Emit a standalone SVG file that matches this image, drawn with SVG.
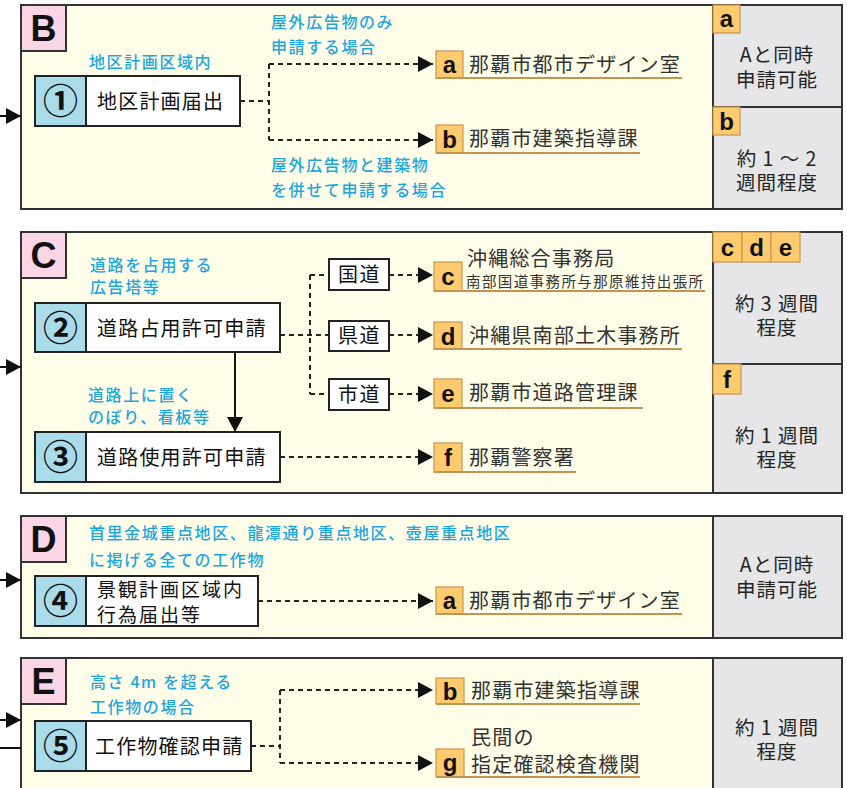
<svg xmlns="http://www.w3.org/2000/svg" width="847" height="788" viewBox="0 0 847 788">
<defs>
<style>
.sec{fill:#FFFCE8;stroke:#333;stroke-width:2}
.gray{fill:#E6E6E8;stroke:#333;stroke-width:2}
.pink{fill:#F9D5E5;stroke:#333;stroke-width:2}
.node{fill:#fff;stroke:#222;stroke-width:2}
.cell{fill:#A9DCE8;stroke:#222;stroke-width:2}
.road{fill:#fff;stroke:#222;stroke-width:2}
.org{fill:#FFCB6E;stroke:#C49650;stroke-width:1.2}
.ul{stroke:#BE9553;stroke-width:2.2;fill:none}
.dash{stroke:#222;stroke-width:2;stroke-dasharray:5 4;fill:none}
.solid{stroke:#111;stroke-width:2;fill:none}
.big{font-family:"Liberation Sans",Arial,sans-serif;font-weight:bold;font-size:36px;fill:#111;text-anchor:middle}
.let{font-family:"Liberation Sans",Arial,sans-serif;font-weight:bold;font-size:24px;fill:#111;text-anchor:middle}
.num{font-family:"Noto Sans CJK JP",sans-serif;font-weight:bold;font-size:35px;fill:#111;text-anchor:middle}
.nt{font-family:"Noto Sans CJK JP",sans-serif;font-size:20px;letter-spacing:1.2px;fill:#111}
.nt2{font-family:"Noto Sans CJK JP",sans-serif;font-size:19px;letter-spacing:2px;fill:#111}
.dt{font-family:"Noto Sans CJK JP",sans-serif;font-size:20px;letter-spacing:1.2px;fill:#333}
.sm{font-family:"Noto Sans CJK JP",sans-serif;font-size:14.5px;letter-spacing:1.4px;fill:#333}
.bl{font-family:"Noto Sans CJK JP",sans-serif;font-size:16px;font-weight:500;letter-spacing:1.6px;fill:#1EA6DF}
.rt{font-family:"Noto Sans CJK JP",sans-serif;font-size:19.5px;letter-spacing:1px;fill:#222;text-anchor:middle}
.ct{font-family:"Noto Sans CJK JP",sans-serif;font-size:20px;letter-spacing:1.5px;fill:#111;text-anchor:middle}
</style>
<marker id="ah" viewBox="0 0 15 16" refX="15" refY="8" markerWidth="15" markerHeight="16" markerUnits="userSpaceOnUse" orient="auto">
<path d="M0,0 L15,8 L0,16 z" fill="#111"/>
</marker>
</defs>

<!-- Sections -->
<g id="secB">
<rect class="sec" x="21" y="5" width="821" height="204"/>
<rect class="gray" x="713" y="5" width="129" height="204"/>
<line x1="713" y1="107" x2="842" y2="107" stroke="#333" stroke-width="2"/>
<rect class="pink" x="21" y="5" width="45" height="46"/>
<text class="big" x="43.5" y="41">B</text>
<text class="bl" x="89" y="68">地区計画区域内</text>
<text class="bl" x="271" y="28">屋外広告物のみ</text>
<text class="bl" x="271" y="53">申請する場合</text>
<text class="bl" x="271" y="171">屋外広告物と建築物</text>
<text class="bl" x="271" y="196">を併せて申請する場合</text>
</g>
<g id="panelB">
<rect class="org" x="713" y="5" width="27" height="28"/>
<text class="let" x="726.5" y="27">a</text>
<text class="rt" x="777" y="62">Aと同時</text>
<text class="rt" x="777" y="87">申請可能</text>
<rect class="org" x="713" y="107" width="27" height="28"/>
<text class="let" x="726.5" y="130">b</text>
<text class="rt" x="777" y="166">約 1 ～ 2</text>
<text class="rt" x="777" y="190">週間程度</text>
</g>

<g id="secC">
<rect class="sec" x="21" y="232" width="821" height="261"/>
<rect class="gray" x="713" y="232" width="129" height="261"/>
<line x1="713" y1="364" x2="842" y2="364" stroke="#333" stroke-width="2"/>
<rect class="pink" x="21" y="232" width="45" height="46"/>
<text class="big" x="43.5" y="268">C</text>
<text class="bl" x="90" y="271">道路を占用する</text>
<text class="bl" x="90" y="293">広告塔等</text>
<text class="bl" x="88" y="401">道路上に置く</text>
<text class="bl" x="88" y="423">のぼり、看板等</text>
</g>
<g id="panelC">
<rect class="org" x="713" y="232" width="29" height="30"/>
<rect class="org" x="742" y="232" width="29" height="30"/>
<rect class="org" x="771" y="232" width="29" height="30"/>
<text class="let" x="727.5" y="256">c</text>
<text class="let" x="756.5" y="256">d</text>
<text class="let" x="785.5" y="256">e</text>
<text class="rt" x="777" y="311">約 3 週間</text>
<text class="rt" x="777" y="335">程度</text>
<rect class="org" x="713" y="364" width="28" height="30"/>
<text class="let" x="727" y="388">f</text>
<text class="rt" x="777" y="443">約 1 週間</text>
<text class="rt" x="777" y="467">程度</text>
</g>

<g id="secD">
<rect class="sec" x="21" y="516" width="821" height="122"/>
<rect class="gray" x="713" y="516" width="129" height="122"/>
<rect class="pink" x="21" y="516" width="45" height="46"/>
<text class="big" x="43.5" y="552">D</text>
<text class="bl" x="89" y="539">首里金城重点地区、龍潭通り重点地区、壺屋重点地区</text>
<text class="bl" x="89" y="566">に掲げる全ての工作物</text>
<text class="rt" x="777" y="572">Aと同時</text>
<text class="rt" x="777" y="597">申請可能</text>
</g>

<g id="secE">
<rect class="sec" x="21" y="658" width="821" height="140"/>
<rect class="gray" x="713" y="658" width="129" height="140"/>
<rect class="pink" x="21" y="658" width="45" height="46"/>
<text class="big" x="43.5" y="694">E</text>
<text class="bl" x="90" y="688">高さ 4m を超える</text>
<text class="bl" x="90" y="713">工作物の場合</text>
<text class="rt" x="777" y="735">約 1 週間</text>
<text class="rt" x="777" y="759">程度</text>
</g>

<!-- Nodes -->
<g id="n1">
<rect class="node" x="35" y="76" width="205" height="50"/>
<rect class="cell" x="35" y="76" width="51" height="50"/>
<text class="num" x="60.5" y="114">①</text>
<text class="nt" x="97" y="109">地区計画届出</text>
</g>
<g id="n2">
<rect class="node" x="35" y="303" width="245" height="49"/>
<rect class="cell" x="35" y="303" width="51" height="49"/>
<text class="num" x="60.5" y="341">②</text>
<text class="nt" x="97" y="336">道路占用許可申請</text>
</g>
<g id="n3">
<rect class="node" x="35" y="432" width="245" height="50"/>
<rect class="cell" x="35" y="432" width="51" height="50"/>
<text class="num" x="60.5" y="470">③</text>
<text class="nt" x="97" y="465">道路使用許可申請</text>
</g>
<g id="n4">
<rect class="node" x="35" y="576" width="223" height="50"/>
<rect class="cell" x="35" y="576" width="51" height="50"/>
<text class="num" x="60.5" y="614">④</text>
<text class="nt2" x="97" y="597">景観計画区域内</text>
<text class="nt2" x="97" y="622">行為届出等</text>
</g>
<g id="n5">
<rect class="node" x="35" y="721" width="216" height="50"/>
<rect class="cell" x="35" y="721" width="51" height="50"/>
<text class="num" x="60.5" y="759">⑤</text>
<text class="nt" x="95" y="754">工作物確認申請</text>
</g>
<g id="road1">
<rect class="road" x="329" y="259" width="60" height="31"/>
<text class="ct" x="359.5" y="282">国道</text>
</g>
<g id="road2">
<rect class="road" x="329" y="321" width="60" height="30"/>
<text class="ct" x="359.5" y="343">県道</text>
</g>
<g id="road3">
<rect class="road" x="329" y="379" width="60" height="31"/>
<text class="ct" x="359.5" y="402">市道</text>
</g>

<!-- Destinations -->
<g id="dBa">
<rect class="org" x="436" y="51" width="27" height="27"/>
<text class="let" x="449.5" y="73">a</text>
<line class="ul" x1="436" y1="78" x2="682" y2="78"/>
<text class="dt" x="469" y="72">那覇市都市デザイン室</text>
</g>
<g id="dBb">
<rect class="org" x="436" y="125" width="27" height="28"/>
<text class="let" x="449.5" y="148">b</text>
<line class="ul" x1="436" y1="153" x2="640" y2="153"/>
<text class="dt" x="469" y="146">那覇市建築指導課</text>
</g>
<g id="dCc">
<rect class="org" x="434" y="262" width="28" height="29"/>
<text class="let" x="448" y="285">c</text>
<line class="ul" x1="434" y1="291" x2="705" y2="291"/>
<text class="dt" x="467" y="266">沖縄総合事務局</text>
<text class="sm" x="466" y="287">南部国道事務所与那原維持出張所</text>
</g>
<g id="dCd">
<rect class="org" x="434" y="322" width="28" height="27"/>
<text class="let" x="448" y="345">d</text>
<line class="ul" x1="434" y1="349" x2="682" y2="349"/>
<text class="dt" x="469" y="343">沖縄県南部土木事務所</text>
</g>
<g id="dCe">
<rect class="org" x="434" y="379" width="28" height="29"/>
<text class="let" x="448" y="402">e</text>
<line class="ul" x1="434" y1="408" x2="643" y2="408"/>
<text class="dt" x="469" y="400">那覇市道路管理課</text>
</g>
<g id="dCf">
<rect class="org" x="434" y="443" width="28" height="29"/>
<text class="let" x="448" y="466">f</text>
<line class="ul" x1="434" y1="472" x2="576" y2="472"/>
<text class="dt" x="469" y="465">那覇警察署</text>
</g>
<g id="dDa">
<rect class="org" x="436" y="587" width="27" height="27"/>
<text class="let" x="449.5" y="609">a</text>
<line class="ul" x1="436" y1="614" x2="682" y2="614"/>
<text class="dt" x="469" y="608">那覇市都市デザイン室</text>
</g>
<g id="dEb">
<rect class="org" x="436" y="678" width="28" height="26"/>
<text class="let" x="450" y="700">b</text>
<line class="ul" x1="436" y1="704" x2="640" y2="704"/>
<text class="dt" x="471" y="698">那覇市建築指導課</text>
</g>
<g id="dEg">
<rect class="org" x="436" y="749" width="28" height="28"/>
<text class="let" x="450" y="771">g</text>
<line class="ul" x1="436" y1="777" x2="640" y2="777"/>
<text class="dt" x="471" y="745">民間の</text>
<text class="dt" x="471" y="772">指定確認検査機関</text>
</g>

<!-- Connectors -->
<g id="connectors">
<line class="solid" x1="0" y1="116" x2="21" y2="116" marker-end="url(#ah)"/>
<line class="solid" x1="0" y1="367" x2="21" y2="367" marker-end="url(#ah)"/>
<line class="solid" x1="0" y1="580" x2="21" y2="580" marker-end="url(#ah)"/>
<line class="solid" x1="0" y1="720" x2="21" y2="720" marker-end="url(#ah)"/>
<line class="solid" x1="0" y1="748" x2="21" y2="748"/>

<path class="dash" d="M240,101 H269 M269,64 V140"/>
<line class="dash" x1="269" y1="64" x2="433" y2="64" marker-end="url(#ah)"/>
<line class="dash" x1="269" y1="140" x2="433" y2="140" marker-end="url(#ah)"/>

<path class="dash" d="M280,335 H329 M310,275 V394 M310,275 H329 M310,394 H329"/>
<line class="dash" x1="389" y1="275" x2="433" y2="275" marker-end="url(#ah)"/>
<line class="dash" x1="389" y1="335" x2="433" y2="335" marker-end="url(#ah)"/>
<line class="dash" x1="389" y1="394" x2="433" y2="394" marker-end="url(#ah)"/>
<line class="solid" x1="235" y1="352" x2="235" y2="432" marker-end="url(#ah)"/>
<line class="dash" x1="280" y1="457" x2="433" y2="457" marker-end="url(#ah)"/>

<line class="dash" x1="258" y1="601" x2="433" y2="601" marker-end="url(#ah)"/>

<path class="dash" d="M251,746 H280 M280,690 V763"/>
<line class="dash" x1="280" y1="690" x2="433" y2="690" marker-end="url(#ah)"/>
<line class="dash" x1="280" y1="763" x2="433" y2="763" marker-end="url(#ah)"/>
</g>
</svg>
